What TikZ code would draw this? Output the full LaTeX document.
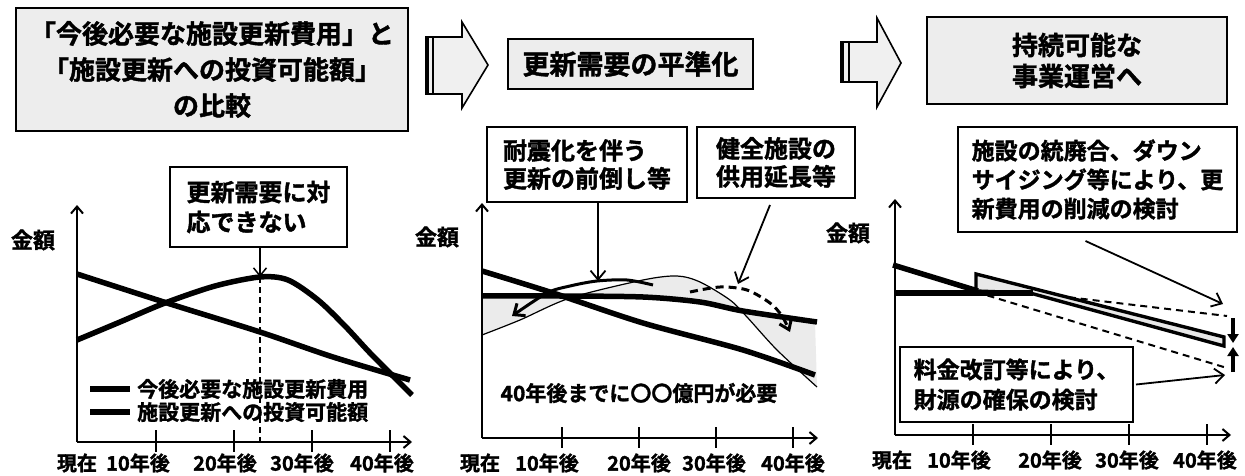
\documentclass[tikz,border=0pt]{standalone}
\usepackage{fontspec}
\setmainfont{Noto Sans CJK JP}[BoldFont=* Bold, BoldFeatures={FakeBold=1.5}]
\usetikzlibrary{arrows.meta,calc}
\tikzset{
 titlebox/.style={draw, line width=2.4pt, fill=gray!14, align=center, inner sep=0pt},
 notebox/.style={draw, line width=2pt, fill=white, align=left, inner sep=0pt},
 axisline/.style={line width=2pt, -{Straight Barb[length=7pt,width=12pt]}},
 tickline/.style={line width=2pt},
 heavy/.style={line width=5.5pt},
 callout/.style={line width=1.8pt, -{Straight Barb[length=9pt,width=15pt]}},
 lab/.style={font=\fontsize{20}{22}\selectfont\bfseries, inner sep=0pt},
 ylab/.style={font=\fontsize{22}{24}\selectfont\bfseries, inner sep=0pt},
 blockarrow/.style={draw, line width=1.6pt, fill=gray!12},
 dashedline/.style={line width=2pt, dash pattern=on 7pt off 5pt},
}
\begin{document}
\begin{tikzpicture}[x=1pt,y=-1pt]
\useasboundingbox (0,0) rectangle (1245,476);

% ---------- headers ----------
\node[titlebox, minimum width=392pt, minimum height=123pt,
  font=\fontsize{26}{36}\selectfont\bfseries] (t1) at (212,69.5)
  {「今後必要な施設更新費用」と\\「施設更新への投資可能額」\\の比較};
\node[titlebox, minimum width=245pt, minimum height=50pt,
  font=\fontsize{27}{30}\selectfont\bfseries] (t2) at (630.5,64) {更新需要の平準化};
\node[titlebox, minimum width=300pt, minimum height=87pt,
  font=\fontsize{26}{31}\selectfont\bfseries] (t3) at (1077,60.5) {持続可能な\\事業運営へ};

% block arrows
\draw[blockarrow] (426,37) -- (462,37) -- (462,22) -- (488,65) -- (462,108) -- (462,94) -- (426,94) -- cycle;
\draw[line width=3.5pt] (427,37) -- (427,94);
\draw[line width=1.4pt] (433,37) -- (433,94);
\draw[blockarrow] (841,42) -- (877,42) -- (877,18) -- (901,63) -- (877,107) -- (877,82) -- (841,82) -- cycle;
\draw[line width=3.5pt] (842,42) -- (842,82);
\draw[line width=1.4pt] (849,42) -- (849,82);

% ---------- panel 1 ----------
\node[ylab] (y1) at (33,240) {金額};
\draw[axisline] (77,442) -- (77,205);
\draw[axisline] (77,442) -- (412,442);
\foreach \x in {156,234,312,390} \draw[tickline] (\x,430) -- (\x,452);
\node[lab] (a10) at (77,463) {現在};
\node[lab] (a11) at (138,463) {10年後};
\node[lab] (a12) at (225,463) {20年後};
\node[lab] (a13) at (302,463) {30年後};
\node[lab] (a14) at (382,463) {40年後};
% need curve
\draw[heavy] plot[smooth] coordinates {(77,340) (120,322) (165,303) (215,286) (260,277) (288,280) (318,300) (345,326) (372,355) (412,395)};
% investable line
\draw[heavy] plot[smooth] coordinates {(77,274) (167,303) (260,332) (333,357) (410,380)};
\coordinate (pk1) at (260,277);
\draw[line width=1.8pt, dash pattern=on 6pt off 4pt] (pk1) -- (260,442);
\node[notebox, minimum width=177pt, minimum height=80pt,
  font=\fontsize{24}{30}\selectfont\bfseries] (c1) at (258.5,207) {更新需要に対\\応できない};
\draw[line width=1.5pt, -{Straight Barb[length=8pt,width=13pt]}] (c1.south -| pk1) -- (pk1);
% legend
\draw[heavy] (90,389) -- (130,389);
\draw[heavy] (90,412) -- (130,412);
\node[lab, font=\fontsize{21}{23}\selectfont\bfseries, anchor=west] (l1) at (137,389) {今後必要な施設更新費用};
\node[lab, font=\fontsize{21}{23}\selectfont\bfseries, anchor=west] (l2) at (137,412) {施設更新への投資可能額};

% ---------- panel 2 ----------
\node[ylab] (y2) at (437,237) {金額};
% shaded area between original need and leveled line
\fill[gray!16, even odd rule] plot[smooth] coordinates {(482,335) (520,320) (570,298) (643,280) (677,276) (700,282) (730,300) (747,317) (777,350) (817,387)}
  -- (815,322) -- plot[smooth] coordinates {(815,322) (743,311) (700,302) (643,297) (560,296) (482,297)} -- cycle;
\draw[axisline] (482,438) -- (482,203);
\draw[axisline] (482,438) -- (818,438);
\foreach \x in {562,639,716,793} \draw[tickline] (\x,427) -- (\x,448);
\node[lab] (a20) at (480,463) {現在};
\node[lab] (a21) at (547,463) {10年後};
\node[lab] (a22) at (639,463) {20年後};
\node[lab] (a23) at (714,463) {30年後};
\node[lab] (a24) at (793,463) {40年後};
\draw[line width=1.2pt] plot[smooth] coordinates {(482,335) (520,320) (570,298) (643,280) (677,276) (700,282) (730,300) (747,317) (777,350) (817,387)};
\draw[heavy] plot[smooth] coordinates {(482,271) (553,293) (643,323) (743,350) (815,375)};
\draw[heavy] plot[smooth] coordinates {(482,296) (560,296) (643,297) (700,302) (743,311) (817,322)};
% front-loading arrow
\draw[line width=3pt, -{Straight Barb[length=9pt,width=15pt]}] plot[smooth] coordinates {(653,285) (627,280) (597,281) (570,286) (547,293) (512,316)};
% extension arrow
\draw[line width=3pt, dash pattern=on 8pt off 5pt, -{Straight Barb[length=9pt,width=13pt]}] plot[smooth] coordinates {(690,292) (720,287) (747,290) (770,303) (782,316) (790,332)};
\node[lab, font=\fontsize{21}{23}\selectfont\bfseries] (n40) at (639,393) {40年後までに〇〇億円が必要};
\node[notebox, minimum width=200pt, minimum height=75pt,
  font=\fontsize{24}{28}\selectfont\bfseries] (c2a) at (587,164.5) {耐震化を伴う\\更新の前倒し等};
\node[notebox, minimum width=158pt, minimum height=71pt,
  font=\fontsize{24}{28}\selectfont\bfseries] (c2b) at (776,162.5) {健全施設の\\供用延長等};
\coordinate (tA) at (598,281);
\coordinate (tB) at (738,284);
\draw[callout] (tA |- c2a.south) -- (tA);
\draw[callout] ([xshift=-6pt,yshift=-6pt]c2b.south) -- (tB);

% ---------- panel 3 ----------
\node[ylab] (y3) at (848,233) {金額};
\draw[axisline] (895,435) -- (895,199);
\draw[axisline] (895,435) -- (1231,435);
\foreach \x in {973,1051,1129,1207} \draw[tickline] (\x,424) -- (\x,445);
\node[lab] (a30) at (892,460) {現在};
\node[lab] (a31) at (959,460) {10年後};
\node[lab] (a32) at (1050,460) {20年後};
\node[lab] (a33) at (1127,460) {30年後};
\node[lab] (a34) at (1205,460) {40年後};
% dashed projections
\draw[dashedline] (1033,293) -- (1227,316);
\draw[dashedline] (976,292) -- (1227,368);
% reduced renewal band
\draw[line width=3.4pt, line join=miter, fill=gray!18] (976,291) -- (976,274) -- (1224,337) -- (1224,346) -- (1030,293) -- cycle;
% lines
\draw[heavy] (893,265) -- (978,291);
\draw[heavy] (895,293) -- (1033,293);
% small black arrows
\draw[line width=3.5pt, -{Triangle[length=9pt,width=11pt]}] (1233,318) -- (1233,343);
\draw[line width=3.5pt, -{Triangle[length=9pt,width=11pt]}] (1233,372) -- (1233,347);
\node[notebox, minimum width=279pt, minimum height=105pt,
  font=\fontsize{23}{29}\selectfont\bfseries] (c3a) at (1097.5,179.5) {施設の統廃合、ダウン\\サイジング等により、更\\新費用の削減の検討};
\node[notebox, minimum width=233pt, minimum height=75pt,
  font=\fontsize{23}{30}\selectfont\bfseries] (c3b) at (1016.5,384.5) {料金改訂等により、\\財源の確保の検討};
\coordinate (t3a) at (1223,304);
\coordinate (t3b) at (1225,375);
\draw[callout] ([xshift=-12pt,yshift=-8pt]c3a.south) -- (t3a);
\draw[callout] ([xshift=2pt]c3b.east) -- (t3b);
\end{tikzpicture}
\end{document}
